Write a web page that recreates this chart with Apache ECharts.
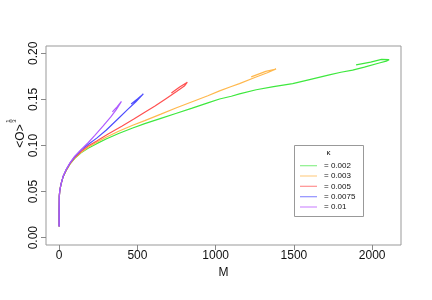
<!DOCTYPE html>
<html><head><meta charset="utf-8">
<script src="https://cdn.jsdelivr.net/npm/echarts@6/dist/echarts.min.js"></script>
<style>html,body{margin:0;padding:0;background:#fff}#c{width:432px;height:300px}</style>
</head><body><div id="c"></div>
<script>
// ---- data ----
const legendTitle = 'κ';
const kappaLabels = ['= 0.002', '= 0.003', '= 0.005', '= 0.0075', '= 0.01'];
const xTicks = [0, 500, 1000, 1500, 2000];
const yTicks = [0, 0.05, 0.10, 0.15, 0.20];

const M_002 = [0,0,1,4,12,25,45,70,100,140,185,240,300,380,470,547,650,750,850,950,1025,1100,1152,1259,1370,1492,1600,1726,1800,1875,1950,2045,2090,2108,2100,2060,1990,1897];
const O_002 = [0.012,0.030,0.045,0.051,0.058,0.066,0.073,0.080,0.086,0.092,0.097,0.102,0.107,0.113,0.119,0.1237,0.1295,0.135,0.1405,0.1463,0.1505,0.1535,0.156,0.1605,0.164,0.1672,0.1715,0.1766,0.1795,0.1818,0.185,0.1895,0.1915,0.1932,0.1945,0.1935,0.1905,0.1875];

const M_003 = [0,0,1,4,12,25,45,70,100,140,185,240,300,380,470,547,650,750,850,950,1025,1100,1152,1250,1330,1386,1375,1320,1227];
const O_003 = [0.012,0.030,0.045,0.051,0.058,0.066,0.073,0.080,0.0865,0.0925,0.098,0.1035,0.109,0.1155,0.122,0.127,0.134,0.141,0.1475,0.154,0.1593,0.164,0.1672,0.1738,0.179,0.183,0.1835,0.1805,0.1745];

const M_005 = [0,0,1,4,12,25,45,70,100,143,185,240,313,400,480,547,610,680,750,800,819,810,770,717];
const O_005 = [0.012,0.030,0.045,0.051,0.058,0.066,0.0735,0.0805,0.087,0.094,0.0995,0.105,0.1125,0.121,0.129,0.136,0.1425,0.1505,0.1585,0.1645,0.1687,0.1692,0.1635,0.157];

const M_0075 = [0,0,1,4,12,25,45,70,100,143,185,240,300,370,440,490,538,530,500,460];
const O_0075 = [0.012,0.030,0.045,0.051,0.058,0.066,0.0738,0.081,0.088,0.0955,0.101,0.108,0.1165,0.128,0.1395,0.1475,0.156,0.1565,0.1505,0.145];

const M_01 = [0,0,1,4,12,25,45,70,100,143,185,228,280,330,365,398,392,370,340];
const O_01 = [0.012,0.030,0.045,0.051,0.058,0.0665,0.074,0.0815,0.0885,0.096,0.103,0.111,0.121,0.131,0.139,0.1478,0.148,0.142,0.1365];

const lineColors = ['#3ee83e', '#ffb84d', '#ff5050', '#4d4dff', '#b05cff'];
const legendColors = ['#8cf08c', '#ffd08c', '#ff9090', '#9090ff', '#d090ff'];

// ---- build ----
const MS = [M_002, M_003, M_005, M_0075, M_01];
const OS = [O_002, O_003, O_005, O_0075, O_01];
const FONT = 'Liberation Sans, Arial, Helvetica, sans-serif';

const series = MS.map((m, i) => ({
  type: 'line',
  name: kappaLabels[i],
  data: m.map((v, j) => [v, OS[i][j]]),
  showSymbol: false,
  symbol: 'none',
  smooth: false,
  lineStyle: { color: lineColors[i], width: 1.2 },
  animation: false,
  z: 2 + i
}));

const legendX = 294, legendY = 145, legendW = 69, legendH = 71;
const rowY = [165.7, 176, 186.3, 196.7, 207];
const graphic = [
  { type: 'rect', shape: { x: legendX + 0.5, y: legendY + 0.5, width: legendW, height: legendH },
    style: { fill: '#fff', stroke: '#999', lineWidth: 1 }, z: 100 },
  { type: 'text', x: legendX + legendW / 2, y: 153,
    style: { text: legendTitle, fontSize: 8, fill: '#111', align: 'center', verticalAlign: 'middle', fontFamily: FONT }, z: 101 }
];
kappaLabels.forEach((t, i) => {
  graphic.push({ type: 'line', shape: { x1: 300, y1: rowY[i], x2: 317, y2: rowY[i] },
    style: { stroke: legendColors[i], lineWidth: 1.2 }, z: 101 });
  graphic.push({ type: 'text', x: 324, y: rowY[i],
    style: { text: t, fontSize: 8, fill: '#111', align: 'left', verticalAlign: 'middle', fontFamily: FONT }, z: 101 });
});
// y axis title <O>^(1/3)
graphic.push({ type: 'group', x: 21, y: 136, rotation: Math.PI / 2, children: [
  { type: 'text', x: 0, y: 0, style: { text: '<O>', fontSize: 12, fill: '#111', align: 'center', verticalAlign: 'middle', fontFamily: FONT } },
  { type: 'text', x: 15, y: -12.5, style: { text: '1', fontSize: 6, fill: '#111', align: 'center', verticalAlign: 'middle', fontFamily: FONT } },
  { type: 'line', shape: { x1: 13, y1: -10, x2: 17, y2: -10 }, style: { stroke: '#111', lineWidth: 0.6 } },
  { type: 'text', x: 15, y: -7, style: { text: '3', fontSize: 6, fill: '#111', align: 'center', verticalAlign: 'middle', fontFamily: FONT } }
]});

const chart = echarts.init(document.getElementById('c'), null, { renderer: 'canvas' });
chart.setOption({
  animation: false,
  backgroundColor: '#fff',
  grid: { left: 46, top: 46, right: 31, bottom: 55, show: true, borderColor: '#999', borderWidth: 1, backgroundColor: 'transparent' },
  xAxis: {
    type: 'value', min: -84, max: 2184,
    axisLine: { show: false, onZero: false },
    splitLine: { show: false },
    axisTick: { show: true, customValues: xTicks, length: 5, lineStyle: { color: '#888' } },
    axisLabel: { customValues: xTicks, margin: 5, fontSize: 12, color: '#111', fontFamily: FONT,
      formatter: v => String(v) },
    name: 'M', nameLocation: 'middle', nameGap: 21,
    nameTextStyle: { fontSize: 12, color: '#111', fontFamily: FONT }
  },
  yAxis: {
    type: 'value', min: -0.008, max: 0.208,
    axisLine: { show: false, onZero: false },
    splitLine: { show: false },
    axisTick: { show: true, customValues: yTicks, length: 5, lineStyle: { color: '#888' } },
    axisLabel: { customValues: yTicks, rotate: 90, margin: 6, fontSize: 12, color: '#111', fontFamily: FONT,
      formatter: v => v.toFixed(2) }
  },
  graphic: graphic,
  series: series
});
</script>
</body></html>
